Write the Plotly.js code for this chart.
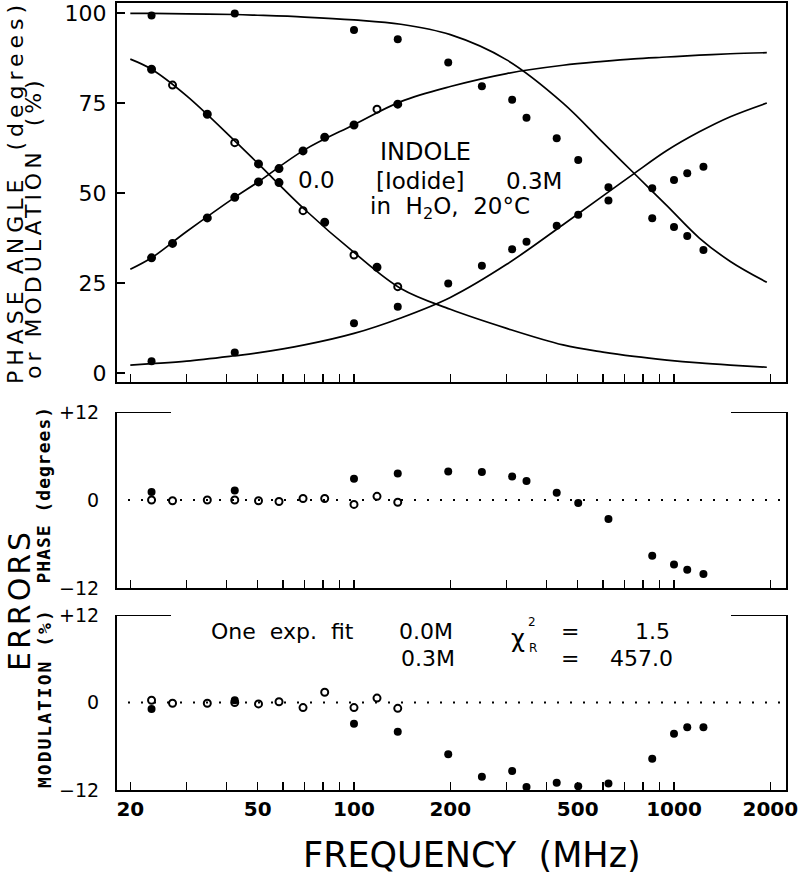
<!DOCTYPE html>
<html><head><meta charset="utf-8">
<script src="https://cdn.plot.ly/plotly-3.0.1.min.js"></script>
<style>html,body{margin:0;padding:0;background:#fff}#chart{width:800px;height:874px}</style>
</head><body><div id="chart"></div>
<script>
// ---------------- data ----------------
const freq00   = [23.3, 27.1, 34.8, 42.4, 50.3, 58.3, 69.3, 81, 100, 118, 137];
const phase00  = [32.0, 36.0, 43.1, 48.8, 53.1, 56.8, 61.7, 65.5, 68.9, 73.3, 74.7];
const mod00    = [84.4, 80.0, 71.9, 64.0, 58.1, 52.9, 45.1, 41.9, 32.8, 29.4, 24.0];
const freq03   = [23.3, 42.4, 100, 137, 197, 251, 312, 346, 430, 502, 624, 855, 1000, 1100, 1236];
const phase03  = [3.3, 5.7, 13.8, 18.4, 24.9, 29.8, 34.4, 36.5, 40.9, 44.0, 47.9, 51.3, 53.6, 55.5, 57.3];
const mod03    = [99.3, 99.9, 95.3, 92.7, 86.3, 79.7, 75.9, 70.9, 65.2, 59.2, 51.6, 43.0, 40.6, 38.1, 34.2];
const fitFreq     = [20, 23.3, 30, 42.4, 50, 70, 100, 140, 200, 300, 450, 600, 750, 950, 1200, 1500, 1950];
const fitPhase00  = [28.8, 32.0, 39.3, 48.8, 53.0, 62.0, 69.0, 75.4, 79.6, 83.2, 85.5, 86.6, 87.3, 87.8, 88.3, 88.7, 89.0];
const fitMod00    = [87.2, 84.4, 77.0, 64.5, 58.3, 45.5, 33.5, 23.5, 17.7, 12.4, 7.8, 5.8, 4.6, 3.6, 2.8, 2.2, 1.6];
const fitMod03    = [99.9, 99.9, 99.8, 99.6, 99.4, 98.9, 98.1, 96.9, 94.0, 87.0, 75.0, 64.0, 55.5, 46.5, 37.5, 31.0, 25.2];
const fitPhase03  = [2.2, 2.6, 3.3, 4.8, 5.6, 7.8, 11.0, 15.3, 21.0, 30.2, 41.2, 49.2, 55.4, 61.8, 67.0, 71.2, 75.0];
const phaseErr00 = [0.0, -0.1, 0.0, 0.0, -0.1, -0.2, 0.2, 0.2, -0.6, 0.5, -0.3];
const modErr00   = [0.3, -0.1, -0.1, 0.0, -0.2, 0.1, -0.7, 1.4, -0.7, 0.6, -0.8];
const phaseErr03 = [1.1, 1.3, 2.9, 3.6, 3.9, 3.8, 3.2, 2.6, 1.0, -0.4, -2.6, -7.6, -8.8, -9.5, -10.1];
const modErr03   = [-0.9, 0.3, -2.9, -4.0, -7.1, -10.2, -9.4, -11.6, -11.0, -11.5, -11.1, -7.7, -4.3, -3.4, -3.4];
const xMajorTicks = [20, 50, 100, 200, 500, 1000, 2000];
const xMajorText  = ['20', '50', '100', '200', '500', '1000', '2000'];
const xMinorTicks = [30, 40, 60, 70, 80, 90, 300, 400, 600, 700, 800, 900];
const yTopTicks   = [0, 25, 50, 75, 100];
const yErrTicks   = [-12, 0, 12];
const yErrText    = ['\u221212', '0', '+12'];

// ---------------- styles ----------------
const F = 'DejaVu Sans, sans-serif';
const FM = 'DejaVu Sans Mono, monospace';
const filled = {color:'black', size:8, symbol:'circle'};
const openSym = (i, openIdx) => openIdx.includes(i) ? 'circle-open' : 'circle';
const sym00Phase = freq00.map((_, i) => openSym(i, [9]));
const sym00Mod   = freq00.map((_, i) => openSym(i, [1, 3, 6, 8, 10]));
const lineStyle = {color:'black', width:1.7, shape:'spline', smoothing:1};

const traces = [
  {x:fitFreq, y:fitPhase00, mode:'lines', line:lineStyle, xaxis:'x', yaxis:'y', hoverinfo:'skip'},
  {x:fitFreq, y:fitMod00,   mode:'lines', line:lineStyle, xaxis:'x', yaxis:'y', hoverinfo:'skip'},
  {x:fitFreq, y:fitMod03,   mode:'lines', line:lineStyle, xaxis:'x', yaxis:'y', hoverinfo:'skip'},
  {x:fitFreq, y:fitPhase03, mode:'lines', line:lineStyle, xaxis:'x', yaxis:'y', hoverinfo:'skip'},
  {x:freq00, y:phase00, mode:'markers', xaxis:'x', yaxis:'y', cliponaxis:false,
   marker:{color:'black', size:7, symbol:sym00Phase, line:{color:'black', width:2}}},
  {x:freq00, y:mod00, mode:'markers', xaxis:'x', yaxis:'y', cliponaxis:false,
   marker:{color:'black', size:7, symbol:sym00Mod, line:{color:'black', width:2}}},
  {x:freq03, y:phase03, mode:'markers', xaxis:'x', yaxis:'y', cliponaxis:false, marker:filled},
  {x:freq03, y:mod03,   mode:'markers', xaxis:'x', yaxis:'y', cliponaxis:false, marker:filled},
  {x:freq00, y:phaseErr00, mode:'markers', xaxis:'x2', yaxis:'y2', cliponaxis:false,
   marker:{color:'black', size:7, symbol:'circle-open', line:{color:'black', width:2}}},
  {x:freq03, y:phaseErr03, mode:'markers', xaxis:'x2', yaxis:'y2', cliponaxis:false, marker:filled},
  {x:freq00, y:modErr00, mode:'markers', xaxis:'x3', yaxis:'y3', cliponaxis:false,
   marker:{color:'black', size:7, symbol:'circle-open', line:{color:'black', width:2}}},
  {x:freq03, y:modErr03, mode:'markers', xaxis:'x3', yaxis:'y3', cliponaxis:false, marker:filled}
];

// pixel -> paper helpers (plot area: x 117..786, y 3..790)
const PX = x => (x - 117) / 669;
const PY = y => (790 - y) / 787;

const xCommon = {type:'log', range:[1.2594, 3.35], showgrid:false, zeroline:false,
  showline:true, linecolor:'black', linewidth:2, ticks:'inside', ticklen:8, tickwidth:1.5,
  tickcolor:'black', tickmode:'array', tickvals:xMajorTicks, ticktext:xMajorText, fixedrange:true,
  minor:{tickmode:'array', tickvals:xMinorTicks, ticks:'inside', ticklen:8, tickwidth:1.5, tickcolor:'black', showgrid:false}};
const yErrCommon = {range:[-12, 12], showgrid:false, zeroline:false, showline:true, mirror:true,
  linecolor:'black', linewidth:2, ticks:'', tickmode:'array', tickvals:yErrTicks, ticktext:yErrText,
  tickfont:{family:F, size:19, color:'black'}, ticklabelstandoff:12, fixedrange:true};

function ann(text, x, y, size, extra) {
  return Object.assign({text:text, x:PX(x), y:PY(y), xref:'paper', yref:'paper', showarrow:false,
    xanchor:'center', yanchor:'middle', font:{family:F, size:size, color:'black'}}, extra || {});
}
const NB = '\u00a0';
const annotations = [
  ann('PHASE ANGLE' + NB + NB + '(degrees)', 16, 192, 22, {textangle:-90}),
  ann('or' + NB + 'MODULATION' + NB + NB + '(%)', 33, 228, 22, {textangle:-90}),
  ann('ERRORS', 19, 600, 30, {textangle:-90}),
  ann('PHASE (degrees)', 44, 495, 18, {textangle:-90, font:{family:FM, size:18, color:'black', weight:'bold'}}),
  ann('MODULATION (%)', 44, 698, 18, {textangle:-90, font:{family:FM, size:18, color:'black', weight:'bold'}}),
  ann('INDOLE', 425, 152, 24),
  ann('0.0', 316, 180, 23),
  ann('[Iodide]', 420, 181, 23),
  ann('0.3M', 534, 181, 23),
  ann('in' + NB + NB + 'H<sub>2</sub>O,' + NB + NB + '20°C', 450, 208, 23),
  ann('One' + NB + NB + 'exp.' + NB + NB + 'fit', 282, 631, 22),
  ann('0.0M', 426, 631, 22),
  ann('0.3M', 428, 658, 22),
  ann('\u03c7', 518, 639, 24),
  ann('2', 532, 622, 12),
  ann('R', 533, 648, 12),
  ann('=', 570, 631, 22),
  ann('1.5', 652, 631, 22),
  ann('=', 570, 658, 22),
  ann('457.0', 641, 658, 22),
  ann('FREQUENCY' + NB + NB + '(MHz)', 472, 855, 35)
];

const shapes = [
  {type:'line', xref:'paper', yref:'y2', x0:0, x1:PX(171), y0:12, y1:12, line:{color:'black', width:2}},
  {type:'line', xref:'paper', yref:'y2', x0:PX(731), x1:1, y0:12, y1:12, line:{color:'black', width:2}},
  {type:'line', xref:'paper', yref:'y3', x0:0, x1:PX(171), y0:12, y1:12, line:{color:'black', width:2}},
  {type:'line', xref:'paper', yref:'y3', x0:PX(731), x1:1, y0:12, y1:12, line:{color:'black', width:2}},
  {type:'line', xref:'paper', yref:'y2', x0:PX(128), x1:1, y0:0, y1:0, line:{color:'black', width:2, dash:'2px,11px'}},
  {type:'line', xref:'paper', yref:'y3', x0:PX(128), x1:1, y0:0, y1:0, line:{color:'black', width:2, dash:'2px,11px'}}
];

const layout = {
  width:800, height:874, showlegend:false,
  margin:{l:117, r:14, t:3, b:84, pad:0},
  paper_bgcolor:'white', plot_bgcolor:'white',
  font:{family:F, color:'black'},
  xaxis:Object.assign({}, xCommon, {anchor:'y', domain:[0,1], mirror:true, showticklabels:false}),
  xaxis2:Object.assign({}, xCommon, {anchor:'y2', domain:[0,1], matches:'x', showticklabels:false}),
  xaxis3:Object.assign({}, xCommon, {anchor:'y3', domain:[0,1], matches:'x', showticklabels:true,
    tickfont:{family:F, size:20, color:'black', weight:'bold'}}),
  yaxis:{anchor:'x', domain:[0.5184, 1], range:[-2.5, 102.8], showgrid:false, zeroline:false,
    showline:true, mirror:true, linecolor:'black', linewidth:2, ticks:'inside', ticklen:8, tickwidth:1.5,
    tickcolor:'black', tickmode:'array', tickvals:yTopTicks, tickfont:{family:F, size:22, color:'black'},
    ticklabelstandoff:4, fixedrange:true},
  yaxis2:Object.assign({}, yErrCommon, {anchor:'x2', domain:[0.2567, 0.4803]}),
  yaxis3:Object.assign({}, yErrCommon, {anchor:'x3', domain:[0, 0.2224]}),
  annotations:annotations,
  shapes:shapes
};

const spacing = {
  'PHASE ANGLE\u00a0\u00a0(degrees)': 5,
  'or\u00a0MODULATION\u00a0\u00a0(%)': 4,
  'ERRORS': 3,
  'PHASE (degrees)': 1,
  'MODULATION (%)': 2
};
Plotly.newPlot('chart', traces, layout, {displayModeBar:false, staticPlot:true}).then(function(gd){
  gd.querySelectorAll('.annotation-text').forEach(function(t){
    const s = spacing[t.textContent];
    if (s) t.style.letterSpacing = s + 'px';
  });
});
</script>
</body></html>
